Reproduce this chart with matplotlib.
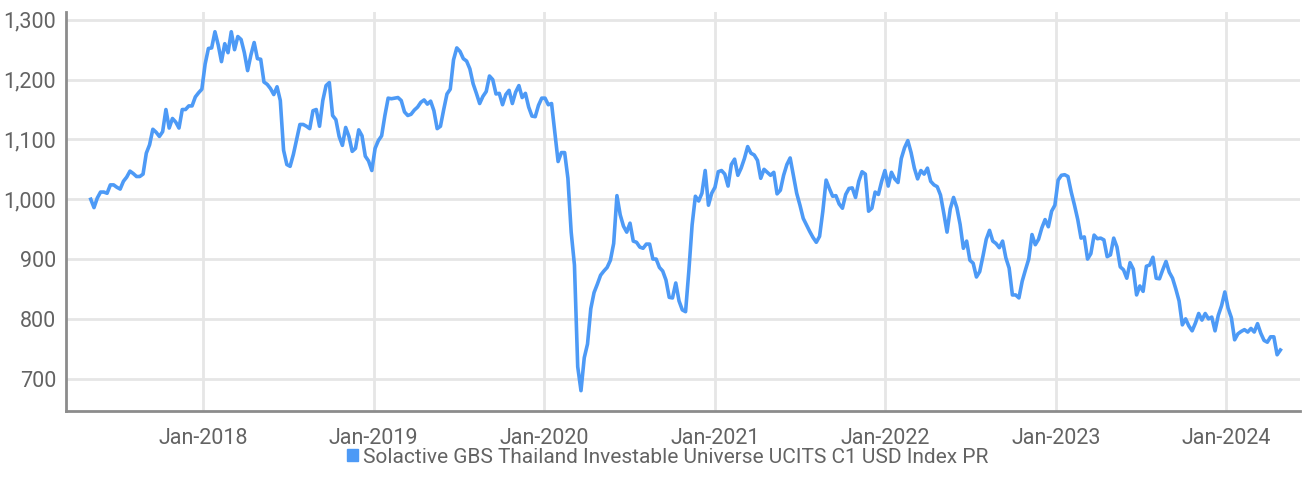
import numpy as np
import pandas as pd
import matplotlib
matplotlib.use("Agg")
import matplotlib.pyplot as plt
import matplotlib.dates as mdates
from matplotlib.patches import Patch
from matplotlib.ticker import FuncFormatter

plt.rcParams['font.family'] = ['Roboto', 'DejaVu Sans']

# weekly index levels (Fridays), May 2017 - Apr 2024
start_date = '2017-05-05'
index_pr = [
    1000, 986, 1002, 1012, 1012, 1010, 1024, 1024, 1020, 1017,
    1030, 1037, 1047, 1043, 1038, 1038, 1042, 1077, 1091, 1117,
    1112, 1105, 1113, 1150, 1119, 1135, 1129, 1119, 1150, 1150,
    1156, 1156, 1171, 1178, 1184, 1226, 1252, 1253, 1280, 1258,
    1230, 1260, 1245, 1280, 1250, 1272, 1267, 1245, 1215, 1241,
    1262, 1235, 1234, 1196, 1192, 1185, 1175, 1188, 1165, 1082,
    1058, 1055, 1075, 1100, 1125, 1125, 1122, 1118, 1148, 1150,
    1122, 1165, 1190, 1195, 1140, 1133, 1105, 1090, 1120, 1105,
    1080, 1085, 1116, 1106, 1072, 1064, 1048, 1085, 1098, 1106,
    1140, 1169, 1168, 1169, 1170, 1165, 1146, 1140, 1142, 1149,
    1154, 1162, 1166, 1159, 1164, 1148, 1118, 1122, 1150, 1176,
    1184, 1233, 1253, 1247, 1235, 1231, 1218, 1193, 1177, 1160,
    1172, 1180, 1206, 1200, 1176, 1177, 1158, 1175, 1182, 1160,
    1179, 1190, 1170, 1177, 1154, 1139, 1138, 1157, 1169, 1169,
    1158, 1160, 1111, 1063, 1078, 1078, 1035, 945, 890, 720,
    680, 735, 758, 817, 844, 858, 873, 880, 886, 898,
    926, 1006, 974, 955, 945, 960, 930, 928, 920, 918,
    925, 925, 900, 900, 886, 880, 865, 836, 835, 860,
    830, 815, 812, 880, 957, 1005, 997, 1010, 1048, 990,
    1010, 1020, 1046, 1048, 1042, 1022, 1058, 1067, 1040, 1052,
    1068, 1088, 1077, 1074, 1065, 1035, 1050, 1045, 1040, 1045,
    1009, 1015, 1040, 1058, 1069, 1040, 1010, 990, 968, 957,
    946, 936, 928, 938, 980, 1032, 1018, 1005, 1006, 992,
    985, 1008, 1018, 1019, 1003, 1030, 1046, 1042, 980, 985,
    1012, 1008, 1030, 1048, 1022, 1045, 1034, 1028, 1068, 1086,
    1098, 1078, 1052, 1034, 1048, 1042, 1052, 1030, 1024, 1021,
    1007, 977, 945, 984, 1003, 986, 958, 918, 930, 898,
    893, 870, 879, 905, 933, 948, 930, 926, 919, 930,
    902, 885, 840, 840, 835, 863, 882, 900, 941, 924,
    933, 952, 966, 954, 980, 990, 1032, 1040, 1041, 1038,
    1012, 990, 966, 935, 937, 900, 909, 940, 934, 935,
    932, 904, 907, 935, 920, 887, 882, 868, 894, 883,
    840, 855, 846, 888, 890, 903, 868, 867, 882, 896,
    878, 868, 850, 830, 790, 800, 788, 780, 793, 809,
    798, 809, 800, 803, 780, 806, 822, 845, 818, 802,
    765, 775, 779, 782, 778, 784, 778, 792, 776, 764,
    761, 770, 770, 740, 748,
]
series_name = 'Solactive GBS Thailand Investable Universe UCITS C1 USD Index PR'
y_ticks = [700, 800, 900, 1000, 1100, 1200, 1300]
x_ticks = ['2018-01-01', '2019-01-01', '2020-01-01', '2021-01-01',
           '2022-01-01', '2023-01-01', '2024-01-01']

dates = pd.date_range(start_date, periods=len(index_pr), freq='W-FRI')

line_col = '#4d9af6'
grid_col = '#e6e6e6'
spine_col = '#8c8c8c'
text_col = '#636363'

fig = plt.figure(figsize=(13.06, 4.94), dpi=100)
ax = fig.add_axes([66/1306, 83/494, 1234/1306, 399/494])

ax.plot(dates, index_pr, color=line_col, lw=2.6, solid_joinstyle='round')

ax.set_ylim(646, 1313)
ax.set_xlim(pd.Timestamp('2017-03-13'), pd.Timestamp('2024-06-07'))
ax.set_yticks(y_ticks)
ax.yaxis.set_major_formatter(FuncFormatter(lambda v, p: f'{int(v):,}'))
ax.set_xticks(pd.to_datetime(x_ticks))
ax.xaxis.set_major_formatter(mdates.DateFormatter('%b-%Y'))

ax.grid(True, color=grid_col, lw=2)
ax.set_axisbelow(True)
for s in ['top', 'right']:
    ax.spines[s].set_visible(False)
for s in ['left', 'bottom']:
    ax.spines[s].set_color(spine_col)
    ax.spines[s].set_linewidth(2)
ax.tick_params(length=0, labelsize=15.5, colors=text_col)
ax.tick_params(axis='x', pad=12)
ax.tick_params(axis='y', pad=7)

fig.legend(handles=[Patch(color=line_col, label=series_name)],
           loc='center', bbox_to_anchor=(668/1306, 1 - 457/494),
           frameon=False, fontsize=15, labelcolor=text_col,
           handlelength=0.5, handleheight=0.55, handletextpad=0.25)

fig.savefig('out.png', dpi=100)
